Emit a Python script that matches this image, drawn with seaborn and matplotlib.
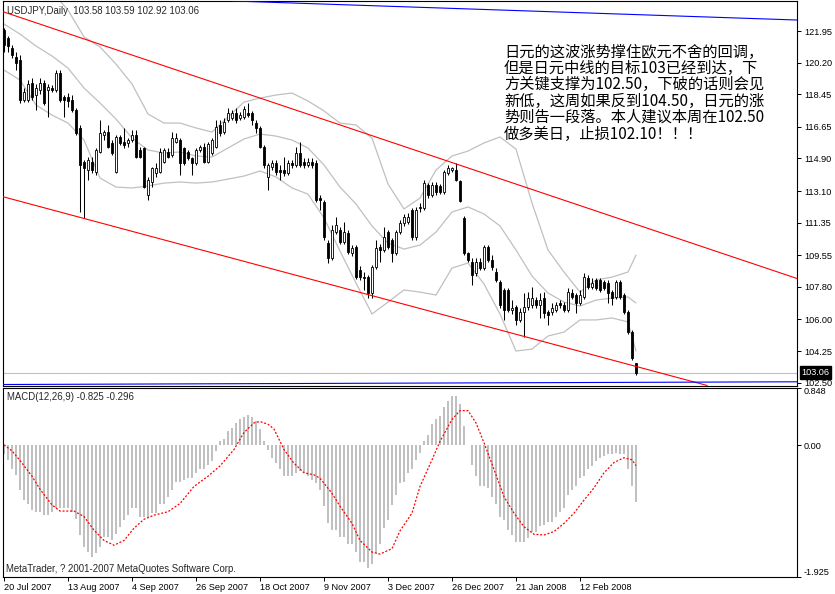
import numpy as np
import pandas as pd
import matplotlib
matplotlib.use("Agg")
import matplotlib.pyplot as plt
from matplotlib.patches import Rectangle
import seaborn as sns

# ---------------- data ----------------
opens = [122.01,121.56,121.01,120.51,120.35,118.13,118.13,119.07,118.41,118.69,
         119.07,118.69,118.80,118.69,119.63,118.30,118.30,118.13,117.58,116.59,
         114.71,114.26,114.71,114.15,115.26,116.20,116.36,115.76,114.15,116.09,
         115.81,115.76,115.92,116.20,115.37,115.48,112.88,113.60,114.10,114.15,
         114.71,115.26,115.09,115.81,115.92,115.48,115.26,114.93,114.65,115.37,
         115.53,114.71,115.20,115.53,116.75,116.36,117.03,117.14,117.42,117.14,
         117.19,117.42,117.42,116.86,116.59,115.53,113.88,114.43,114.65,114.26,
         114.26,114.10,114.65,114.54,115.20,114.71,114.54,114.71,114.65,112.71,
         112.49,110.22,109.40,110.83,110.94,110.28,110.78,109.67,110.00,108.73,
         108.34,108.34,107.46,108.90,110.00,109.84,110.83,110.39,109.67,110.83,
         111.33,111.39,112.05,110.56,112.22,112.16,113.43,112.88,113.43,113.38,
         113.05,114.10,114.26,114.26,113.65,111.61,109.67,109.17,108.57,109.17,
         108.84,110.00,109.28,108.62,108.07,107.63,107.63,106.52,106.68,105.97,
         106.41,106.68,106.80,107.07,106.80,107.18,106.41,106.41,106.52,106.91,
         106.80,106.52,107.46,107.35,106.91,107.24,108.29,107.79,108.18,108.18,
         108.07,108.01,107.51,107.24,108.07,107.35,106.41,105.30,103.58]
highs = [122.12,121.67,121.18,120.79,120.62,118.80,119.24,119.35,119.02,119.35,
         119.24,119.02,118.96,119.79,119.79,118.41,118.52,118.41,117.69,116.75,
         114.82,114.98,114.98,115.48,117.03,116.47,116.75,115.92,116.20,116.20,
         116.59,116.03,116.47,116.47,115.53,115.53,113.88,114.43,114.65,115.48,
         115.48,115.48,116.36,116.31,116.03,115.53,115.37,114.98,115.48,115.65,
         115.76,115.81,116.03,117.03,117.03,117.14,117.69,117.58,117.69,117.47,
         117.80,117.97,117.53,117.03,116.70,115.65,114.65,114.82,114.82,114.54,
         114.98,114.82,114.82,115.53,115.81,114.93,114.93,114.93,114.82,112.88,
         112.60,110.39,111.22,111.66,111.11,111.39,110.94,110.11,110.11,108.95,
         108.62,108.45,109.01,110.39,110.17,111.11,110.94,110.50,110.94,111.50,
         111.83,111.88,112.16,112.22,112.44,113.71,113.54,113.60,113.60,113.49,
         114.26,114.54,114.43,114.65,113.71,111.72,109.73,109.40,109.40,109.40,
         110.11,110.11,109.56,108.84,108.18,107.74,107.74,107.07,106.80,106.63,
         107.46,107.51,107.79,107.24,107.46,107.51,106.52,106.91,106.96,107.07,
         106.96,107.74,107.68,107.46,107.63,108.57,108.45,108.29,108.29,108.29,
         108.18,108.18,107.63,108.18,108.18,107.46,106.52,105.41,103.59]
lows = [120.79,120.79,120.46,119.79,117.97,118.02,118.02,118.13,117.58,118.47,
        117.86,117.19,118.58,118.58,118.02,117.19,117.75,117.47,116.20,111.94,
        111.61,113.71,114.10,113.99,115.20,115.92,115.48,115.09,114.10,115.65,
        115.48,115.53,115.81,114.93,114.93,113.27,112.60,113.32,113.88,114.10,
        114.65,114.93,114.98,115.76,113.99,114.54,114.82,113.99,114.54,115.26,
        114.65,114.65,115.09,115.48,116.14,116.25,116.92,117.03,116.86,117.03,
        117.08,117.19,116.75,116.31,115.48,114.37,113.16,114.26,113.99,113.71,
        113.93,113.99,114.37,114.43,114.43,114.37,114.43,114.37,112.49,112.05,
        110.39,109.12,109.28,110.72,110.17,110.17,109.62,109.51,108.23,108.18,
        107.63,107.18,107.18,108.79,109.17,109.73,109.89,109.17,109.56,110.72,
        111.17,111.28,110.39,110.39,111.94,112.05,112.71,112.77,112.88,112.93,
        112.93,113.99,114.15,113.65,112.49,109.56,109.17,107.90,108.40,108.73,
        108.73,109.17,108.73,108.07,106.63,105.97,106.41,106.30,105.69,105.86,
        105.03,106.52,106.63,106.63,106.08,106.08,105.69,106.24,106.41,106.63,
        106.41,106.41,107.13,106.35,106.80,107.13,107.68,107.68,107.63,107.51,
        107.63,106.91,106.80,107.13,107.13,106.30,105.19,103.75,102.92]
closes = [121.18,121.12,120.62,120.18,118.13,118.58,119.02,118.30,118.80,119.07,
          117.97,118.85,118.69,119.63,118.13,118.13,118.08,117.58,116.31,114.54,
          114.37,114.82,114.26,115.37,116.31,116.36,115.53,115.20,116.09,115.76,
          115.65,115.92,116.20,114.98,114.98,113.32,113.71,114.37,114.37,115.26,
          115.37,114.98,116.03,116.03,114.65,114.65,114.93,114.65,115.37,115.53,
          114.71,115.70,115.92,116.64,116.31,116.92,117.42,117.42,117.03,117.30,
          117.64,117.30,117.03,116.59,115.53,114.54,114.54,114.65,114.15,114.15,
          114.10,114.65,114.54,115.20,114.54,114.54,114.71,114.54,112.60,112.60,
          110.56,109.40,110.94,111.22,110.28,110.83,109.73,109.95,108.34,108.34,
          108.29,107.46,108.90,109.95,109.84,110.56,110.00,109.67,110.83,111.33,
          111.66,111.66,110.56,112.05,112.16,113.54,112.88,113.43,113.05,113.05,
          114.15,114.37,114.37,113.71,112.55,109.67,109.28,108.45,109.17,108.84,
          110.00,109.28,108.90,108.18,106.80,106.52,106.52,106.63,105.97,106.41,
          106.68,107.18,107.18,106.80,107.07,106.35,106.24,106.63,106.80,106.80,
          106.52,107.51,107.24,106.91,107.35,108.34,107.79,108.01,107.74,107.63,
          107.74,107.46,107.18,108.07,107.24,106.41,105.30,103.86,103.06]

band_idx = list(range(0, 157, 4)) + [158]
bb_upper = [125.88,125.60,124.77,124.11,123.11,121.62,121.07,120.12,119.02,117.36,
            116.86,116.86,116.59,116.36,117.19,118.02,118.24,118.41,118.52,118.08,
            117.53,116.86,116.75,116.03,113.49,112.11,112.71,114.26,115.04,115.31,
            115.76,116.09,115.42,112.44,109.84,108.62,107.51,108.18,108.34,108.62,109.56]
bb_middle = [122.34,121.78,121.12,120.57,119.90,118.80,117.97,117.08,116.03,115.37,
             115.20,115.26,115.04,114.98,115.48,115.98,116.25,116.14,115.92,115.48,
             114.54,113.32,112.38,111.17,110.22,109.89,110.11,110.83,111.94,112.22,
             111.83,111.17,109.84,108.40,107.46,106.96,106.74,107.07,107.18,107.24,106.91]
bb_lower = [119.79,119.24,117.86,117.30,116.86,115.92,113.82,113.32,113.27,113.38,
            113.54,113.60,113.54,113.60,113.76,113.93,114.21,113.88,113.27,112.93,
            111.61,109.78,108.01,106.30,106.96,107.63,107.51,107.35,108.84,109.12,
            107.96,106.30,104.25,104.36,105.08,105.30,105.97,105.97,106.08,105.86,104.25]

macd_hist = [-0.13,-0.21,-0.35,-0.43,-0.65,-0.80,-0.85,-0.94,-0.97,-0.97,
             -1.02,-1.02,-0.97,-0.92,-0.92,-0.92,-0.92,-0.97,-1.07,-1.31,
             -1.48,-1.56,-1.63,-1.58,-1.48,-1.34,-1.34,-1.39,-1.29,-1.19,
             -1.09,-1.02,-0.92,-0.92,-1.04,-1.04,-1.04,-0.99,-0.99,-0.85,
             -0.85,-0.75,-0.65,-0.53,-0.53,-0.50,-0.48,-0.48,-0.40,-0.35,
             -0.35,-0.28,-0.23,-0.08,0.06,0.09,0.21,0.26,0.33,0.38,
             0.41,0.45,0.41,0.36,0.24,0.06,-0.06,-0.18,-0.26,-0.35,
             -0.45,-0.45,-0.45,-0.40,-0.38,-0.40,-0.45,-0.50,-0.55,-0.65,
             -0.89,-1.14,-1.24,-1.24,-1.34,-1.34,-1.44,-1.44,-1.56,-1.71,
             -1.71,-1.79,-1.73,-1.58,-1.44,-1.21,-1.09,-0.87,-0.72,-0.55,
             -0.53,-0.40,-0.35,-0.21,-0.11,0.06,0.16,0.31,0.39,0.43,
             0.56,0.65,0.72,0.72,0.60,0.29,0.01,-0.28,-0.45,-0.59,
             -0.59,-0.62,-0.75,-0.85,-1.04,-1.09,-1.24,-1.31,-1.42,-1.42,
             -1.41,-1.36,-1.26,-1.26,-1.18,-1.17,-1.12,-1.12,-1.04,-0.97,
             -0.92,-0.72,-0.65,-0.60,-0.48,-0.45,-0.35,-0.30,-0.23,-0.18,
             -0.16,-0.13,-0.13,-0.11,-0.13,-0.13,-0.35,-0.59,-0.825]

signal_idx = [0,2,4,7,9,12,14,17.5,20,22.5,25,27.5,30,32.5,35,37.5,41,44,47.5,51,
              54,57.5,60,62.5,64,66,67.5,70,72.5,75,77.5,79,82,84,87,89,92,94,97,99,
              102,104,107,109,112,114,116,118,120,122.5,125,127.5,130,132.5,135,137.5,
              140,142.5,145,147.5,150,152.5,155,157,158]
signal_val = [0.01,-0.08,-0.22,-0.45,-0.64,-0.87,-0.96,-0.96,-1.04,-1.24,-1.39,-1.46,
              -1.39,-1.21,-1.08,-1.02,-0.97,-0.85,-0.60,-0.45,-0.30,-0.06,0.19,0.33,
              0.35,0.31,0.24,-0.06,-0.26,-0.40,-0.43,-0.48,-0.70,-0.89,-1.14,-1.39,
              -1.56,-1.59,-1.51,-1.25,-0.99,-0.60,-0.21,0.06,0.38,0.51,0.51,0.33,0.04,
              -0.35,-0.75,-0.99,-1.19,-1.30,-1.31,-1.26,-1.14,-0.99,-0.80,-0.62,-0.40,
              -0.25,-0.18,-0.21,-0.296]

upper_channel_bars = [0, 150]
upper_channel_prices = [123.00, 111.85]
lower_channel_bars = [0, 158]
lower_channel_prices = [112.77, 103.40]
top_blue_bars = [139, 198]
top_blue_prices = [123.00, 122.56]
bottom_blue_bars = [0, 198]
bottom_blue_prices = [102.40, 102.55]
bid_price = 103.06

price_ticks = [121.95, 120.20, 118.45, 116.65, 114.90, 113.10, 111.35, 109.55,
               107.80, 106.00, 104.25, 102.50]
macd_ticks = [0.848, 0.0, -1.925]
macd_tick_labels = ["0.848", "0.00", "-1.925"]
date_ticks = [0, 16, 32, 48, 64, 80, 96, 112, 128, 144]
date_labels = ["20 Jul 2007", "13 Aug 2007", "4 Sep 2007", "26 Sep 2007",
               "18 Oct 2007", "9 Nov 2007", "3 Dec 2007", "26 Dec 2007",
               "21 Jan 2008", "12 Feb 2008"]

header = "USDJPY,Daily  103.58 103.59 102.92 103.06"
macd_title = "MACD(12,26,9) -0.825 -0.296"
copyright_text = "MetaTrader, ? 2001-2007 MetaQuotes Software Corp."
comment_lines = ["日元的这波涨势撑住欧元不舍的回调，",
                 "但是日元中线的目标103已经到达，下",
                 "方关键支撑为102.50，下破的话则会见",
                 "新低，这周如果反到104.50，日元的涨",
                 "势则告一段落。本人建议本周在102.50",
                 "做多美日，止损102.10！！！"]

# ---------------- style ----------------
sns.set_style("white")
plt.rcParams["font.family"] = ["Liberation Sans", "DejaVu Sans"]

W, H = 835, 594
fig = plt.figure(figsize=(W / 100, H / 100), dpi=100)
fig.patch.set_facecolor("white")

def fx(x):
    return x / W

def fy(y):
    return 1 - y / H

left, right = 2.5, 797
ax = fig.add_axes([fx(left), fy(385.5), (right - left) / W, (385.5 - 1) / H])
ax2 = fig.add_axes([fx(left), fy(577), (right - left) / W, (577 - 387.5) / H])

XMIN, XMAX = -0.375, 198.25
for a in (ax, ax2):
    a.set_xlim(XMIN, XMAX)
    a.set_facecolor("white")
    for s in a.spines.values():
        s.set_color("black")
        s.set_linewidth(0.8)

ax.set_ylim(102.345, 123.61)
ax2.set_ylim(-1.925, 0.848)

SILVER = "#c0c0c0"

# Bollinger bands
bdf = pd.DataFrame({"bar": band_idx, "upper": bb_upper, "middle": bb_middle, "lower": bb_lower})
for col in ["upper", "middle", "lower"]:
    sns.lineplot(data=bdf, x="bar", y=col, ax=ax, color=SILVER, lw=0.9,
                 legend=False, zorder=1)

# bid line
ax.axhline(bid_price, color=SILVER, lw=0.8, zorder=1)

# candles
n = len(closes)
for i in range(n):
    o, h, l, c = opens[i], highs[i], lows[i], closes[i]
    ax.vlines(i, l, h, color="black", lw=0.75, zorder=2)
    bottom = min(o, c)
    height = max(abs(c - o), 0.03)
    fc = "white" if c > o else "black"
    ax.add_patch(Rectangle((i - 0.3, bottom), 0.6, height, facecolor=fc,
                           edgecolor="black", lw=0.6, zorder=3))

# trend lines
ax.axline((upper_channel_bars[0], upper_channel_prices[0]),
          (upper_channel_bars[1], upper_channel_prices[1]), color="red", lw=0.8, zorder=4)
ax.axline((lower_channel_bars[0], lower_channel_prices[0]),
          (lower_channel_bars[1], lower_channel_prices[1]), color="red", lw=0.8, zorder=4)
ax.axline((top_blue_bars[0], top_blue_prices[0]),
          (top_blue_bars[1], top_blue_prices[1]), color="blue", lw=0.8, zorder=4)
ax.axline((bottom_blue_bars[0], bottom_blue_prices[0]),
          (bottom_blue_bars[1], bottom_blue_prices[1]), color="blue", lw=0.8, zorder=4)

# price axis
ax.yaxis.tick_right()
ax.set_yticks(price_ticks)
ax.set_yticklabels([f"{t:.2f}" for t in price_ticks])
ax.tick_params(axis="y", right=True, left=False, length=3, width=0.7, pad=2,
               labelsize=6.6, colors="black", direction="out")
ax.set_xticks([])
ax.set_xlabel("")
ax.set_ylabel("")

# current price tag
fig.text(fx(801.5), fy(372.5), "103.06", color="white", fontsize=6.6, va="center",
         ha="left", bbox=dict(facecolor="black", edgecolor="black", pad=1.2))

# MACD panel
ax2.bar(range(n), macd_hist, width=0.28, color=SILVER, edgecolor="none", zorder=1)
sdf = pd.DataFrame({"bar": signal_idx, "signal": signal_val})
sns.lineplot(data=sdf, x="bar", y="signal", ax=ax2, color="red", lw=0.9,
             linestyle=(0, (1.6, 1.4)), legend=False, zorder=2)
ax2.yaxis.tick_right()
ax2.set_yticks(macd_ticks)
ax2.set_yticklabels(macd_tick_labels)
ax2.tick_params(axis="y", right=True, left=False, length=3, width=0.7, pad=2,
                labelsize=6.6, colors="black", direction="out")
labs = ax2.get_yticklabels()
labs[0].set_va("top")
labs[2].set_va("bottom")
ax2.set_xticks(date_ticks)
ax2.set_xticklabels(date_labels, ha="left")
ax2.tick_params(axis="x", bottom=True, length=3, width=0.7, pad=1.5,
                labelsize=6.6, colors="black", direction="out")
ax2.set_xlabel("")
ax2.set_ylabel("")

# texts
fig.text(fx(7), fy(11), header, fontsize=6.9, va="center", ha="left")
fig.text(fx(7), fy(397), macd_title, fontsize=6.9, va="center", ha="left")
fig.text(fx(6), fy(569), copyright_text, fontsize=6.9, va="center", ha="left")
for k, line in enumerate(comment_lines):
    fig.text(fx(504), fy(52 + 16.4 * k), line, fontsize=11, va="center", ha="left",
             family=["Noto Sans CJK SC", "DejaVu Sans"], color="black")

fig.savefig("out.png", dpi=100, facecolor="white")
